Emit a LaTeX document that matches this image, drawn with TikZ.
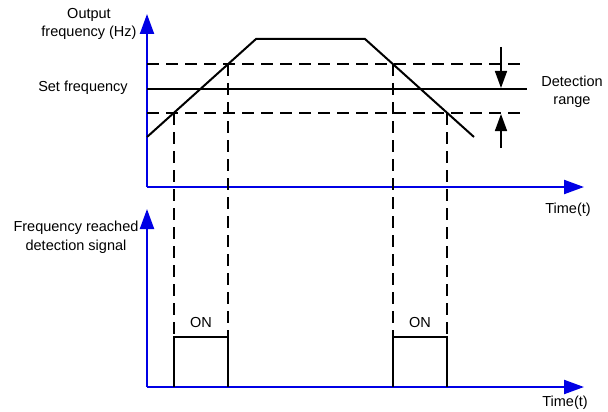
\documentclass[tikz,border=0pt]{standalone}
\usepackage{fontspec}
\setmainfont{Liberation Sans}
\usetikzlibrary{arrows.meta, positioning, calc}

\begin{document}
\begin{tikzpicture}[
    x=1pt, y=-1pt,
    axis/.style={draw=blue!90!black, line width=2.2pt,
                 -{Triangle[length=20pt, width=14pt]}},
    curve/.style={line width=2pt, line join=miter},
    guide/.style={line width=2pt, dash pattern=on 12pt off 7pt},
    rangearrow/.style={line width=1.6pt, -{Triangle[length=17pt, width=12pt]}},
    lbl/.style={font=\fontsize{14.5}{18.5}\selectfont, align=center, inner sep=0pt}
  ]
  \useasboundingbox (0,0) rectangle (608,412);

  % Axes
  \coordinate (o1) at (147,187);
  \coordinate (y1) at (147,14);
  \coordinate (x1) at (584,187);
  \coordinate (o2) at (147,387);
  \coordinate (y2) at (147,209);
  \coordinate (x2) at (584,387);
  \draw[axis] (o1) -- (y1);
  \draw[axis] (o1) -- (x1);
  \draw[axis] (o2) -- (y2);
  \draw[axis] (o2) -- (x2);

  % Levels
  \coordinate (hi) at (147,64);
  \coordinate (set) at (147,89);
  \coordinate (lo) at (147,113);
  \draw[guide] (hi) -- (527,64);
  \draw[curve] (set) -- (527,89);
  \draw[guide] (lo) -- (527,113);

  % Output frequency
  \draw[curve] (147,137) -- (256,39) -- (365,39) -- (474,137);

  % Crossing points
  \coordinate (a) at (174,113);
  \coordinate (b) at (228,64);
  \coordinate (c) at (393,64);
  \coordinate (d) at (447,113);

  % Signal pulses
  \coordinate (p1) at (174,337);
  \coordinate (p2) at (228,337);
  \coordinate (p3) at (393,337);
  \coordinate (p4) at (447,337);
  \draw[curve] (p1 |- o2) -- (p1) -- (p2) -- (p2 |- o2);
  \draw[curve] (p3 |- o2) -- (p3) -- (p4) -- (p4 |- o2);

  \draw[guide] (a) -- (p1);
  \draw[guide] (b) -- (p2);
  \draw[guide] (c) -- (p3);
  \draw[guide] (d) -- (p4);

  % Detection range
  \coordinate (r1) at (501,47);
  \coordinate (r2) at (501,88);
  \coordinate (r3) at (501,148);
  \coordinate (r4) at (501,114);
  \draw[rangearrow] (r1) -- (r2);
  \draw[rangearrow] (r3) -- (r4);

  % Labels
  \node[lbl] (outlbl) at (89,24) {Output\\frequency (Hz)};
  \node[lbl] (setlbl) at (83,88) {Set frequency};
  \node[lbl] (detlbl) at (572,92) {Detection\\range};
  \node[lbl] (sigl) at (76,237) {Frequency reached\\detection signal};
  \node[lbl] (time1) at (568,210) {Time(t)};
  \node[lbl] (time2) at (565,403) {Time(t)};
  \node[lbl] (on1) at (201,323) {ON};
  \node[lbl] (on2) at (420,323) {ON};
\end{tikzpicture}
\end{document}
